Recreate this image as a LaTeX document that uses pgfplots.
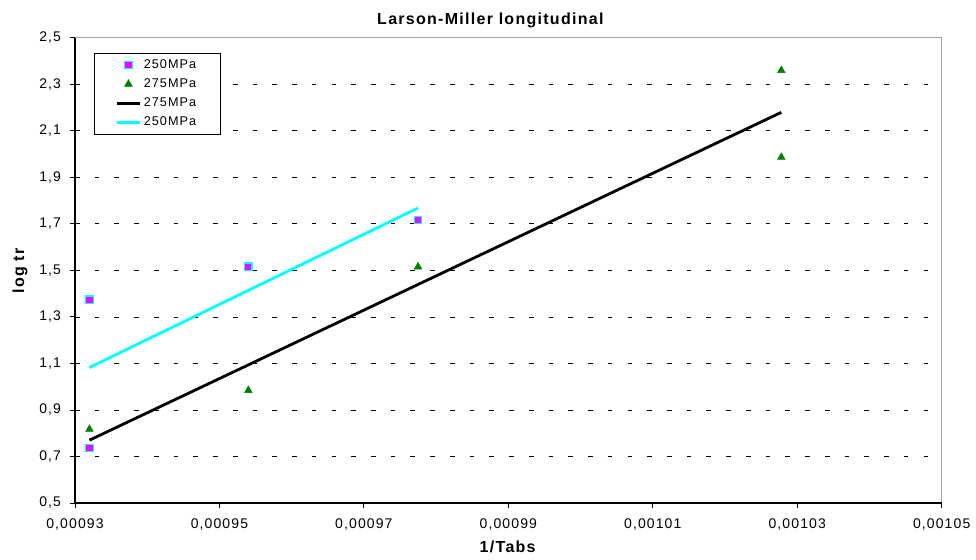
\documentclass[border=0pt]{standalone}
\usepackage{pgfplots}
\pgfplotsset{compat=1.18}
\usepackage{fontspec}
\setmainfont{Liberation Sans}[LetterSpace=8]

\definecolor{lmmag}{RGB}{255,0,255}
\definecolor{lmcyan}{RGB}{0,255,255}
\definecolor{lmgreen}{RGB}{0,128,0}

\begin{document}
\begin{tikzpicture}
\begin{axis}[
    scale only axis,
    width=650pt, height=349pt,
    xmin=0.00093, xmax=0.00105,
    ymin=0.5, ymax=2.5,
    xtick={0.00093,0.00095,0.00097,0.00099,0.00101,0.00103,0.00105},
    xticklabels={{0,00093},{0,00095},{0,00097},{0,00099},{0,00101},{0,00103},{0,00105}},
    ytick={0.5,0.7,0.9,1.1,1.3,1.5,1.7,1.9,2.1,2.3,2.5},
    yticklabels={{0,5},{0,7},{0,9},{1,1},{1,3},{1,5},{1,7},{1,9},{2,1},{2,3},{2,5}},
    scaled x ticks=false,
    tick align=outside, xtick pos=left, ytick pos=left,
    major tick length=4pt,
    tick style={black, line width=0.6pt},
    ticklabel style={font=\fontsize{10.5}{12}\selectfont},
    xticklabel style={yshift=-4pt},
    yticklabel style={xshift=-3pt},
    axis line style={gray!70, line width=0.6pt},
    ymajorgrids,
    major grid style={black, line width=0.5pt, dash pattern=on 3.5pt off 11.3pt},
    title={\textbf{Larson-Miller longitudinal}},
    title style={font=\fontsize{12}{14}\selectfont, yshift=-2pt, xshift=-13pt},
    xlabel={\textbf{1/Tabs}},
    ylabel={\textbf{log tr}},
    label style={font=\fontsize{12}{14}\selectfont},
    xlabel style={yshift=-1pt},
    ylabel style={yshift=2pt},
    legend style={at={(0,1)}, anchor=north west, xshift=14.25pt, yshift=-11.25pt,
        draw=black, line width=0.5pt, font=\fontsize{9.5}{11}\selectfont,
        inner xsep=16pt, inner ysep=3pt, row sep=2.2pt, cells={anchor=west}},
]
\addplot[only marks, mark=square*, mark size=2.8pt, mark options={fill=lmmag, draw=lmcyan, line width=1pt}]
coordinates {(0.000932,0.736) (0.000932,1.374) (0.000954,1.515) (0.0009775,1.716)};
\addlegendentry{250MPa}
\addplot[only marks, mark=triangle*, mark size=3.3pt, mark options={fill=lmgreen, draw=lmgreen}]
coordinates {(0.000932,0.817) (0.000954,0.984) (0.0009775,1.515) (0.0010278,2.359) (0.0010278,1.986)};
\addlegendentry{275MPa}
\addplot[black, line width=2.1pt] coordinates {(0.000932,0.770) (0.0010278,2.179)};
\addlegendentry{275MPa}
\addplot[lmcyan, line width=2.1pt] coordinates {(0.000932,1.082) (0.0009775,1.768)};
\addlegendentry{250MPa}
\end{axis}
\draw[black, line width=0.8pt] (0,349pt) -- (0,0) -- (650pt,0);
\useasboundingbox (-56.25pt,-42.75pt) rectangle (675.75pt,377.25pt);
\end{tikzpicture}
\end{document}
